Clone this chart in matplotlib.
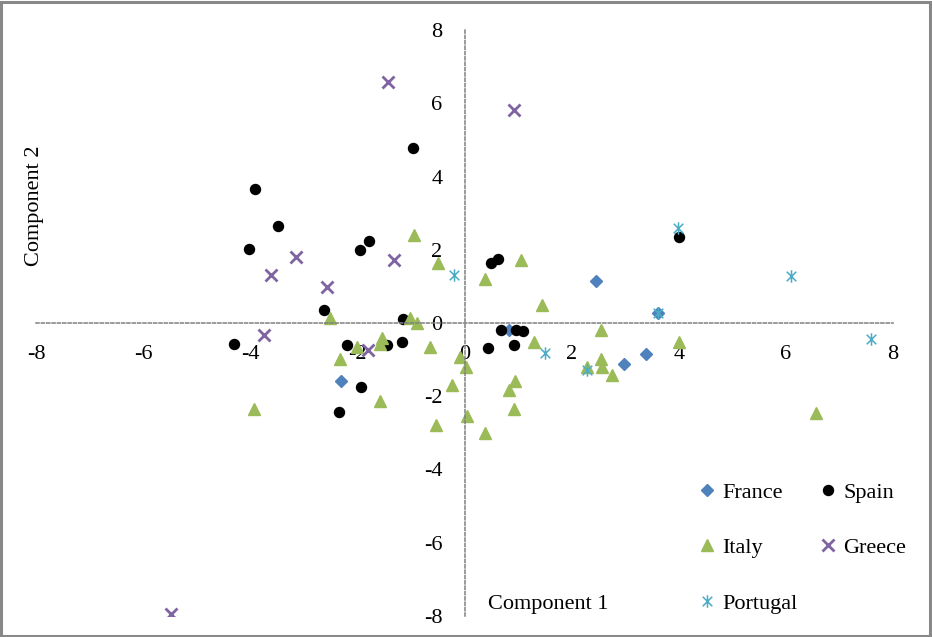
import numpy as np
import matplotlib
matplotlib.use('Agg')
import matplotlib.pyplot as plt
from matplotlib.path import Path
from matplotlib.patches import Rectangle

# principal component scores per country
france_x = [2.45, 3.61, 0.83, 3.38, 2.97, -2.30]
france_y = [1.15, 0.27, -0.19, -0.86, -1.13, -1.59]

spain_x = [-3.92, -3.48, -4.03, -0.96, -1.78, -1.95, -2.62, -1.14, -4.31, -2.19, -1.16,
           -1.45, -1.94, -2.35, 0.50, 0.62, 0.69, 0.97, 1.09, 0.44, 0.92, 4.00]
spain_y = [3.67, 2.66, 2.03, 4.77, 2.25, 2.00, 0.35, 0.11, -0.56, -0.61, -0.53,
           -0.60, -1.76, -2.43, 1.65, 1.75, -0.18, -0.18, -0.23, -0.69, -0.60, 2.35]

italy_x = [-0.94, -0.49, -2.51, -1.01, -0.89, -0.64, -1.54, -1.57, -2.01, -2.33, -0.09,
           0.03, -0.24, -1.58, -3.93, -0.54, 0.05, 1.05, 0.39, 1.44, 2.55, 1.30,
           4.01, 2.55, 2.57, 2.28, 2.76, 0.94, 0.84, 0.93, 0.39, 6.57]
italy_y = [2.41, 1.64, 0.14, 0.13, -0.01, -0.65, -0.42, -0.58, -0.65, -0.97, -0.92,
           -1.20, -1.70, -2.14, -2.34, -2.79, -2.55, 1.73, 1.21, 0.49, -0.19, -0.52,
           -0.52, -0.97, -1.20, -1.20, -1.42, -1.59, -1.84, -2.34, -3.00, -2.46]

greece_x = [-1.42, -3.14, -3.61, -2.57, -1.31, 0.92, -3.75, -1.80, -5.48]
greece_y = [6.58, 1.79, 1.30, 0.98, 1.71, 5.82, -0.33, -0.74, -7.94]

portugal_x = [-0.20, 3.61, 3.98, 1.50, 2.28, 6.09, 7.58]
portugal_y = [1.32, 0.27, 2.59, -0.83, -1.29, 1.29, -0.45]

ticks = [-8, -6, -4, -2, 0, 2, 4, 6, 8]

plt.rcParams.update({
    "font.family": "serif",
    "font.serif": ["Liberation Serif", "DejaVu Serif"],
    "font.size": 16,
    "axes.unicode_minus": False})

# asterisk: an x with a vertical stroke
star = Path([(-1, -1), (1, 1), (-1, 1), (1, -1), (0, -1.3), (0, 1.3)],
            [Path.MOVETO, Path.LINETO] * 3)

W, H = 932, 637
fig = plt.figure(figsize=(W / 100, H / 100), dpi=100)
ax = fig.add_axes([36 / W, 1 - 616 / H, (893 - 36) / W, (616 - 30) / H])

h_fr, = ax.plot(france_x, france_y, 'D', color='#4F81BD', ms=6.5, mec='#4F81BD', ls='none', label='France')
h_sp, = ax.plot(spain_x, spain_y, 'o', color='black', ms=7.2, ls='none', label='Spain')
h_it, = ax.plot(italy_x, italy_y, '^', color='#9BBB59', ms=9, mec='#9BBB59', ls='none', label='Italy')
h_gr, = ax.plot(greece_x, greece_y, 'x', color='#8064A2', ms=8.5, mew=2, ls='none', label='Greece')
h_pt, = ax.plot(portugal_x, portugal_y, marker=star, color='#4BACC6', ms=9, mew=1.1,
                ls='none', label='Portugal')

ax.set_xlim(-8, 8)
ax.set_ylim(-8, 8)
ax.set_xticks(ticks)
ax.set_yticks(ticks)
ax.tick_params(length=0, pad=16, labelsize=16)
for side in ['top', 'right']:
    ax.spines[side].set_visible(False)
for side in ['left', 'bottom']:
    ax.spines[side].set_position('zero')
    ax.spines[side].set_color('#808080')
    ax.spines[side].set_linewidth(1.1)
    ax.spines[side].set_linestyle((0, (2, 1.5)))
ax.patch.set_visible(False)

fig.text(548 / W, 1 - 604 / H, 'Component 1', ha='center', va='center', fontsize=16)
fig.text(34 / W, 1 - 206 / H, 'Component 2', ha='center', va='center', rotation=90, fontsize=16)

# filled column by column: France/Italy/Portugal, then Spain/Greece
fig.legend([h_fr, h_it, h_pt, h_sp, h_gr], ['France', 'Italy', 'Portugal', 'Spain', 'Greece'],
           ncol=2, loc='upper left', bbox_to_anchor=(698 / W, 1 - 482 / H),
           frameon=False, borderpad=0, borderaxespad=0, handlelength=0.8,
           handletextpad=0.3, labelspacing=1.58, columnspacing=0.95, fontsize=16)

fig.patches.append(Rectangle((0.001, 0.001), 0.997, 0.996, transform=fig.transFigure,
                             fill=False, edgecolor='#888888', linewidth=2.2))

fig.savefig('out.png', dpi=100)
